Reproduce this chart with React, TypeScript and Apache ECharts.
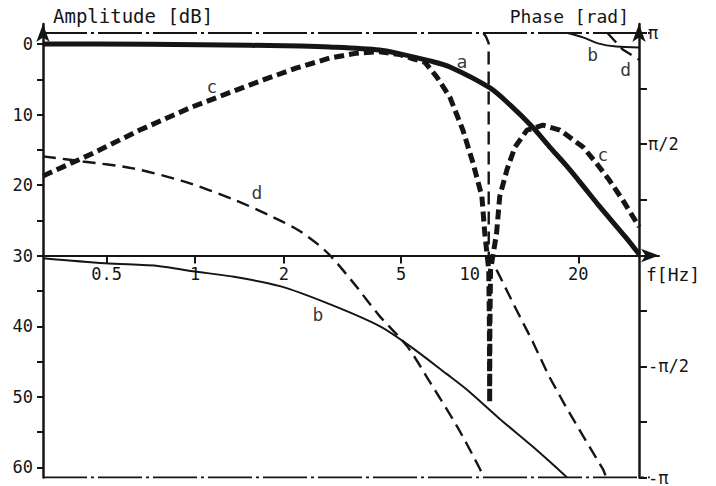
import { useEffect, useRef } from 'react';
import * as echarts from 'echarts';

const FONT = '"DejaVu Sans Mono", "Liberation Mono", monospace';
const INK = '#151515';

// x axis: frequency in Hz (logarithmic)
const freqTicks = [0.5, 1, 2, 5, 10, 20];
const freqMin = 0.304;
const freqMax = 37.6;

// left axis: amplitude in dB (downwards)
const dbTicks = [0, 5, 10, 15, 20, 25, 30, 35, 40, 45, 50, 55, 60];
const dbLabelValues = [0, 10, 20, 30, 40, 50, 60];
const dbTop = -2.83;
const dbBottom = 61.42;

// right axis: phase in units of π
const phaseTicks = [-1, -0.75, -0.5, -0.25, 0.25, 0.5, 0.75, 1];
const phaseLabelValues = [-1, -0.5, 0.5, 1];
const phaseLabelText = ['-π', '-π/2', 'π/2', 'π'];
const phaseTop = 1.0404;
const phaseBottom = -1;

// curve a: amplitude [dB]
const ampA: [number, number][] = [
  [0.304, 0], [0.47, 0], [1.04, 0.1], [2.27, 0.3], [2.86, 0.42], [4.23, 0.85],
  [4.96, 1.4], [6.27, 2.4], [7.33, 3.25], [10.0, 6.2], [11.7, 8.6], [14.0, 11.8],
  [16.0, 14.6], [18.1, 17.1], [20.3, 19.6], [23.5, 22.9], [29.0, 27.4], [32.2, 29.8],
];

// curve c: amplitude [dB] (notch near 10 Hz)
const ampC: [number, number][] = [
  [0.304, 18.7], [0.438, 15.7], [0.648, 12.2], [0.959, 9.05], [1.385, 6.5], [1.7, 5.1],
  [2.21, 3.4], [2.86, 2.0], [3.54, 1.3], [4.23, 1.1], [4.96, 1.5], [5.49, 2.1],
  [6.03, 2.6], [6.62, 4.7], [7.32, 7.5], [8.11, 12.2], [8.77, 16.8], [9.41, 21.6],
  [9.63, 26.9], [9.93, 32], [9.98, 40], [10.0, 50.8], [10.02, 40], [10.07, 32],
  [10.55, 26.9], [10.82, 21.6], [11.45, 17.8], [12.19, 14.6], [13.39, 12.2], [15.17, 11.5],
  [17.33, 12.2], [20.75, 14.6], [22.95, 16.8], [25.4, 19.2], [28.3, 22.1], [30.7, 24.5],
  [32.2, 25.9],
];

// curve b: phase [π rad], wraps from -π to π
const phaseBLow: [number, number][] = [
  [0.304, -0.0135], [0.493, -0.036], [0.758, -0.049], [0.98, -0.072], [1.31, -0.094],
  [1.94, -0.139], [2.86, -0.22], [4.23, -0.319], [5.36, -0.409], [7.16, -0.535],
  [8.32, -0.602], [10.75, -0.733], [14.03, -0.862], [18.1, -0.993], [18.3, -1.0],
];
const phaseBHigh: [number, number][] = [
  [18.4, 1.0], [20.75, 0.98], [23.5, 0.952], [26.9, 0.939], [32.2, 0.935],
];

// curve d: phase [π rad]
const phaseD1: [number, number][] = [
  [0.304, 0.445], [0.415, 0.422], [0.614, 0.391], [0.908, 0.333], [1.345, 0.252],
  [1.84, 0.171], [2.27, 0.108], [2.8, 0.0135], [3.43, -0.121], [4.23, -0.274],
  [5.24, -0.409], [6.27, -0.571], [7.74, -0.769], [9.27, -0.962], [9.5, -1.0],
];
const phaseD2: [number, number][] = [
  [9.52, 1.0], [9.71, 0.984], [9.92, 0.955], [9.93, 0.0], [10.65, -0.076],
  [12.3, -0.243], [14.03, -0.391], [15.9, -0.544], [18.1, -0.679], [20.75, -0.813],
  [24.25, -0.962], [24.9, -1.0],
];
const phaseD3: [number, number][] = [
  [25.1, 1.0], [25.4, 0.993], [28.3, 0.926], [32.2, 0.88],
];

// ±π reference lines
const piLineFreqs = [0.304, 35];

// curve letters
const ampMarks = [
  { name: 'a', f: 8.05, v: 2.55 },
  { name: 'c', f: 1.14, v: 6.08 },
  { name: 'c', f: 24.25, v: 15.7 },
];
const phaseMarks = [
  { name: 'd', f: 1.62, v: 0.283 },
  { name: 'b', f: 2.61, v: -0.265 },
  { name: 'b', f: 22.4, v: 0.903 },
  { name: 'd', f: 29.0, v: 0.836 },
];

const lg = (f: number) => Math.log10(f);
const toXY = (arr: [number, number][]) => arr.map(([f, v]) => [lg(f), v]);

export default function App() {
  const ref = useRef<HTMLDivElement>(null);

  useEffect(() => {
    if (!ref.current) return;
    const chart = echarts.init(ref.current, null, { renderer: 'svg' });

    const lineSeries = (data: [number, number][], yIdx: number, width: number, type: any, smooth: number | boolean) => ({
      type: 'line',
      data: toXY(data),
      yAxisIndex: yIdx,
      symbol: 'none',
      smooth,
      silent: true,
      lineStyle: { color: INK, width, type, cap: 'butt' },
      z: 3,
    });

    const dashDot = [44, 4, 3, 4];

    const letterSeries = (marks: { name: string; f: number; v: number }[], yIdx: number) => ({
      type: 'scatter',
      yAxisIndex: yIdx,
      silent: true,
      symbol: 'circle',
      symbolSize: 2,
      itemStyle: { color: 'rgba(255,255,255,0)' },
      data: marks.map((m) => ({ name: m.name, value: [lg(m.f), m.v] })),
      label: {
        show: true,
        position: 'inside',
        formatter: '{b}',
        fontFamily: FONT,
        fontSize: 18,
        color: '#000',
        textBorderWidth: 0,
      },
      z: 5,
    });

    const option: any = {
      animation: false,
      backgroundColor: '#ffffff',
      grid: { left: 43, right: 57, top: 24, bottom: 8, containLabel: false },
      xAxis: {
        type: 'value',
        min: lg(freqMin),
        max: lg(freqMax),
        position: 'bottom',
        offset: -222,
        name: 'f[Hz]',
        nameLocation: 'end',
        nameGap: -13,
        nameTextStyle: {
          fontFamily: FONT, fontSize: 18, color: INK,
          align: 'left', verticalAlign: 'top', padding: [10, 0, 0, 0],
        },
        axisLine: {
          show: true,
          onZero: false,
          symbol: ['none', 'arrow'],
          symbolSize: [10, 18],
          lineStyle: { color: INK, width: 2 },
        },
        axisTick: {
          show: true,
          length: 8,
          customValues: freqTicks.map(lg),
          lineStyle: { color: INK, width: 2 },
        },
        axisLabel: {
          show: true,
          margin: 10,
          customValues: freqTicks.map(lg),
          fontFamily: FONT,
          fontSize: 17,
          color: INK,
          formatter: (val: number) => {
            const t = freqTicks.find((ft) => Math.abs(lg(ft) - val) < 1e-6);
            if (t === undefined) return '';
            return t === 10 ? '{off|10}' : String(t);
          },
          rich: {
            off: { fontFamily: FONT, fontSize: 17, color: INK, padding: [0, 40, 0, 0] },
          },
        },
        splitLine: { show: false },
      },
      yAxis: [
        {
          type: 'value',
          inverse: true,
          min: dbTop,
          max: dbBottom,
          position: 'left',
          name: 'Amplitude [dB]',
          nameLocation: 'start',
          nameGap: 8,
          nameTextStyle: {
            fontFamily: FONT, fontSize: 19, color: INK,
            align: 'left', verticalAlign: 'middle', padding: [0, 0, 0, 10],
          },
          axisLine: {
            show: true,
            onZero: false,
            symbol: ['none', 'arrow'],
            symbolSize: [10, 18],
            lineStyle: { color: INK, width: 2.5 },
          },
          axisTick: {
            show: true,
            length: 6,
            customValues: dbTicks,
            lineStyle: { color: INK, width: 2 },
          },
          axisLabel: {
            show: true,
            margin: 10,
            customValues: dbLabelValues,
            fontFamily: FONT,
            fontSize: 17,
            color: INK,
          },
          splitLine: { show: false },
        },
        {
          type: 'value',
          min: phaseBottom,
          max: phaseTop,
          position: 'right',
          offset: -20,
          name: 'Phase [rad]',
          nameLocation: 'end',
          nameGap: 8,
          nameTextStyle: {
            fontFamily: FONT, fontSize: 18, color: INK,
            align: 'right', verticalAlign: 'middle', padding: [0, 10, 0, 0],
          },
          axisLine: {
            show: true,
            onZero: false,
            symbol: ['none', 'arrow'],
            symbolSize: [10, 18],
            lineStyle: { color: INK, width: 2.5 },
          },
          axisTick: {
            show: true,
            length: 8,
            customValues: phaseTicks,
            lineStyle: { color: INK, width: 2 },
          },
          axisLabel: {
            show: true,
            margin: 9,
            customValues: phaseLabelValues,
            fontFamily: FONT,
            fontSize: 17,
            color: INK,
            formatter: (val: number) => {
              const i = phaseLabelValues.findIndex((p) => Math.abs(p - val) < 1e-6);
              return i >= 0 ? phaseLabelText[i] : '';
            },
          },
          splitLine: { show: false },
        },
      ],
      series: [
        {
          type: 'line',
          yAxisIndex: 1,
          symbol: 'none',
          silent: true,
          data: piLineFreqs.map((f) => [lg(f), 1]),
          lineStyle: { color: INK, width: 2, type: dashDot },
          z: 2,
        },
        {
          type: 'line',
          yAxisIndex: 1,
          symbol: 'none',
          silent: true,
          data: piLineFreqs.map((f) => [lg(f), -1]),
          lineStyle: { color: INK, width: 2, type: dashDot },
          z: 2,
        },
        lineSeries(ampA, 0, 5, 'solid', 0.3),
        lineSeries(ampC, 0, 5, [10, 5], false),
        lineSeries(phaseBLow, 1, 2, 'solid', 0.3),
        lineSeries(phaseBHigh, 1, 2, 'solid', 0.3),
        lineSeries(phaseD1, 1, 2.4, [13, 7], 0.3),
        lineSeries(phaseD2, 1, 2.4, [13, 7], false),
        lineSeries(phaseD3, 1, 2.4, [13, 7], false),
        letterSeries(ampMarks, 0),
        letterSeries(phaseMarks, 1),
      ],
    };

    chart.setOption(option);
    return () => {
      chart.dispose();
    };
  }, []);

  return (
    <div
      ref={ref}
      style={{ position: 'fixed', left: 0, top: 0, width: 716, height: 486, background: '#fff' }}
    />
  );
}
